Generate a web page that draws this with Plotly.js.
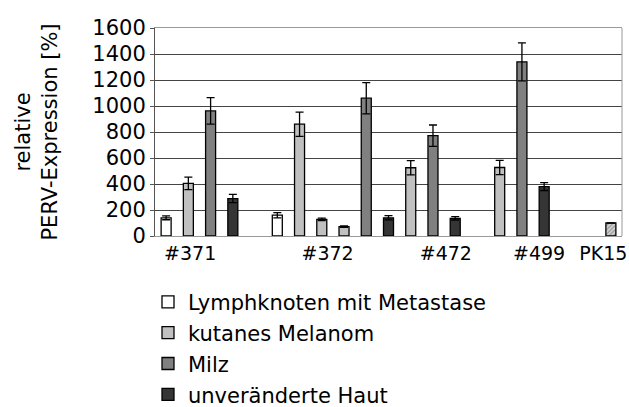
<!DOCTYPE html>
<html>
<head>
<meta charset="utf-8">
<script src="https://cdn.plot.ly/plotly-3.0.1.min.js"></script>
<style>html,body{margin:0;padding:0;background:#fff;}#chart{width:629px;height:407px;}</style>
</head>
<body>
<div id="chart"></div>
<script>
// Group tick labels
const groupLabels = ['#371', '#372', '#472', '#499', 'PK15'];
// Series names (legend)
const seriesNames = ['Lymphknoten mit Metastase', 'kutanes Melanom', 'Milz', 'unveränderte Haut'];

// Bar slots (category index along the x axis) and values per series
const lymphSlot = [0, 5];
const lymphVal  = [140, 160];
const lymphErr  = [15, 20];

const melanomSlot = [1, 6, 7, 8, 11, 15];
const melanomVal  = [405, 860, 128, 72, 525, 527];
const melanomErr  = [48, 93, 10, 5, 55, 55];

const milzSlot = [2, 9, 12, 16];
const milzVal  = [962, 1060, 772, 1340];
const milzErr  = [102, 120, 82, 146];

const hautSlot = [3, 10, 13, 17];
const hautVal  = [288, 140, 136, 380];
const hautErr  = [32, 16, 13, 30];

const pk15Slot = [20];
const pk15Val  = [100];
const pk15Err  = [0];

const FONT = 'DejaVu Sans, Verdana, sans-serif';
const BW = 0.45;

function barTrace(name, x, y, err, color, idx, extra) {
  const t = {
    type: 'bar', name: name, x: x, y: y, width: BW,
    legendgroup: 'g' + idx,
    marker: { color: color, line: { color: '#000', width: 1.3 } },
    error_y: { type: 'data', array: err, visible: true, color: '#000', thickness: 1.3, width: 4 },
    hoverinfo: 'x+y'
  };
  return Object.assign(t, extra || {});
}

const data = [
  barTrace(seriesNames[0], lymphSlot, lymphVal, lymphErr, '#ffffff', 0),
  barTrace(seriesNames[1], melanomSlot, melanomVal, melanomErr, '#c0c0c0', 1),
  barTrace(seriesNames[2], milzSlot, milzVal, milzErr, '#808080', 2),
  barTrace(seriesNames[3], hautSlot, hautVal, hautErr, '#353535', 3),
  barTrace('PK15', pk15Slot, pk15Val, pk15Err, '#c8c8c8', 4, {
    showlegend: false,
    marker: { color: '#d0d0d0', line: { color: '#000', width: 1.3 },
      pattern: { shape: '/', fgcolor: '#888', bgcolor: '#d0d0d0', size: 3, solidity: 0.3 } }
  })
];

const layout = {
  width: 629, height: 407,
  margin: { l: 155, r: 7, t: 28, b: 171, autoexpand: false },
  paper_bgcolor: '#fff', plot_bgcolor: '#fff',
  barmode: 'overlay',
  showlegend: true,
  font: { family: FONT, size: 20, color: '#000' },
  xaxis: {
    range: [-0.5, 20.5], showgrid: false, zeroline: false,
    showline: true, mirror: true, linecolor: '#999', linewidth: 1,
    tickmode: 'array', tickvals: [1.08, 7.26, 12.58, 16.77, 19.66], ticktext: groupLabels,
    ticks: '', tickfont: { family: FONT, size: 19, color: '#000' }
  },
  yaxis: {
    range: [0, 1600], dtick: 200, tick0: 0, showgrid: true, gridcolor: '#444', gridwidth: 1,
    zeroline: false, showline: true, linecolor: '#555', linewidth: 1,
    ticks: 'outside', ticklen: 4, tickcolor: '#555',
    tickfont: { family: FONT, size: 21, color: '#000' },
    title: { text: 'relative<br>PERV-Expression [%]', font: { family: FONT, size: 21, color: '#000' }, standoff: 28 }
  },
  legend: {
    orientation: 'v', x: -0.015, y: -0.22, xanchor: 'left', yanchor: 'top',
    traceorder: 'grouped', tracegroupgap: 0.5,
    font: { family: FONT, size: 21, color: '#000' },
    bgcolor: 'rgba(0,0,0,0)'
  },
  shapes: [
    { type: 'line', xref: 'paper', yref: 'paper', x0: 1, x1: 1, y0: 0, y1: 1, line: { color: '#999', width: 1 } }
  ]
};

Plotly.newPlot('chart', data, layout, { displayModeBar: false, staticPlot: true });
</script>
</body>
</html>
